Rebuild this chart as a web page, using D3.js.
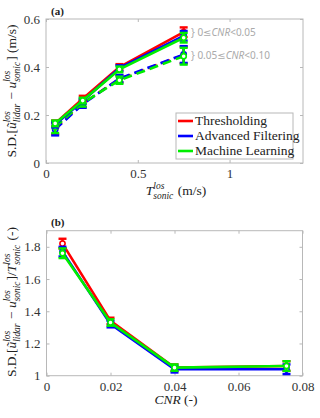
<!DOCTYPE html>
<html>
<head>
<meta charset="utf-8">
<script src="https://cdn.jsdelivr.net/npm/d3@7"></script>
<style>
  body { margin: 0; background: white; }
  svg { display: block; }
  text { white-space: pre; }
</style>
</head>
<body>
<div id="chart"></div>
<script>
// panel (a): turbulence vs S.D. of error
const tSonic = [0.05, 0.2, 0.4, 0.75];
const methods = ['Thresholding', 'Advanced Filtering', 'Machine Learning'];
const colors = ['#ff0000', '#0000ff', '#00ee00'];
// solid lines: 0 <= CNR < 0.05
const lowCnrVals = [
  [0.165, 0.268, 0.400, 0.545],
  [0.160, 0.258, 0.395, 0.530],
  [0.165, 0.260, 0.390, 0.522]
];
const lowCnrErr = [
  [0.012, 0.012, 0.012, 0.020],
  [0.012, 0.012, 0.012, 0.020],
  [0.012, 0.012, 0.012, 0.020]
];
// dashed lines: 0.05 <= CNR < 0.10
const highCnrVals = [
  [0.145, 0.248, 0.350, 0.450],
  [0.140, 0.245, 0.352, 0.452],
  [0.150, 0.250, 0.345, 0.445]
];
const highCnrErr = [
  [0.025, 0.015, 0.015, 0.035],
  [0.025, 0.015, 0.015, 0.035],
  [0.025, 0.015, 0.015, 0.035]
];
const xTicksA = [0, 0.5, 1];
const yTicksA = [0, 0.2, 0.4, 0.6];

// panel (b): CNR vs normalised S.D.
const cnr = [0.005, 0.02, 0.04, 0.075];
const normVals = [
  [1.82, 1.34, 1.05, 1.06],
  [1.77, 1.32, 1.04, 1.04],
  [1.76, 1.33, 1.05, 1.06]
];
const normErr = [
  [0.03, 0.02, 0.02, 0.03],
  [0.03, 0.02, 0.02, 0.03],
  [0.03, 0.02, 0.02, 0.03]
];
const xTicksB = [0, 0.02, 0.04, 0.06, 0.08];
const yTicksB = [1, 1.2, 1.4, 1.6, 1.8];

const W = 320, H = 418;
const serif = "'Liberation Serif', 'DejaVu Serif', serif";
const svg = d3.select('#chart').append('svg').attr('width', W).attr('height', H);

function mathText(g, parts, size) {
  let x = 0;
  parts.forEach(p => {
    if (p.t != null) {
      let t = g.append('text').attr('x', x).attr('y', 0)
        .style('font-family', serif).style('font-size', size + 'px')
        .style('font-style', p.i ? 'italic' : 'normal')
        .attr('fill', '#222').text(p.t);
      x += t.node().getComputedTextLength();
    }
    if (p.sup != null || p.sub != null) {
      let w = 0;
      const s = size * 0.7;
      if (p.sup != null) {
        let t = g.append('text').attr('x', x).attr('y', -size * 0.42)
          .style('font-family', serif).style('font-size', s + 'px').style('font-style', 'italic')
          .attr('fill', '#222').text(p.sup);
        w = Math.max(w, t.node().getComputedTextLength());
      }
      if (p.sub != null) {
        let t = g.append('text').attr('x', x).attr('y', size * 0.28)
          .style('font-family', serif).style('font-size', s + 'px').style('font-style', 'italic')
          .attr('fill', '#222').text(p.sub);
        w = Math.max(w, t.node().getComputedTextLength());
      }
      x += w + 1;
    }
  });
  return x;
}

function centeredMath(parts, size, cx, cy, rotate) {
  let outer = svg.append('g');
  let inner = outer.append('g');
  let w = mathText(inner, parts, size);
  inner.attr('transform', `translate(${-w / 2},0)`);
  outer.attr('transform', `translate(${cx},${cy})` + (rotate ? ' rotate(-90)' : ''));
}

function drawPanel(x, y, xTicks, yTicks, fmtX, fmtY) {
  const g = svg.append('g');
  const [x0, x1] = x.range(), [y0, y1] = y.range();
  g.append('rect').attr('x', x0).attr('y', y1).attr('width', x1 - x0).attr('height', y0 - y1)
    .attr('fill', 'none').attr('stroke', '#b8b8b8').attr('stroke-width', 1);
  const axB = d3.axisBottom(x).tickValues(xTicks).tickSize(-3).tickPadding(6).tickFormat(fmtX);
  const axT = d3.axisTop(x).tickValues(xTicks).tickSize(-3).tickFormat('');
  const axL = d3.axisLeft(y).tickValues(yTicks).tickSize(-3).tickPadding(6).tickFormat(fmtY);
  const axR = d3.axisRight(y).tickValues(yTicks).tickSize(-3).tickFormat('');
  [[axB, `translate(0,${y0})`], [axT, `translate(0,${y1})`], [axL, `translate(${x0},0)`], [axR, `translate(${x1},0)`]]
    .forEach(([ax, tr]) => {
      const a = g.append('g').attr('transform', tr).call(ax);
      a.select('.domain').remove();
      a.selectAll('line').attr('stroke', '#b8b8b8');
      a.selectAll('text').style('font-family', serif).style('font-size', '13px').attr('fill', '#333');
    });
}

function drawSeries(x, y, xs, vals, errs, color, dashed) {
  const pts = xs.map((d, i) => [d, vals[i], errs[i]]);
  const line = d3.line().x(d => x(d[0])).y(d => y(d[1]));
  svg.append('path').datum(pts).attr('d', line).attr('fill', 'none')
    .attr('stroke', color).attr('stroke-width', 2.6)
    .attr('stroke-dasharray', dashed ? '9,5' : null);
  const eb = svg.append('g').attr('stroke', color).attr('stroke-width', 2.4);
  pts.forEach(d => {
    const cx = x(d[0]);
    eb.append('line').attr('x1', cx).attr('x2', cx).attr('y1', y(d[1] - d[2])).attr('y2', y(d[1] + d[2]));
    [d[1] - d[2], d[1] + d[2]].forEach(v => {
      eb.append('line').attr('x1', cx - 4).attr('x2', cx + 4).attr('y1', y(v)).attr('y2', y(v));
    });
  });
  svg.append('g').selectAll('circle').data(pts).join('circle')
    .attr('cx', d => x(d[0])).attr('cy', d => y(d[1])).attr('r', 2.6)
    .attr('fill', 'white').attr('stroke', color).attr('stroke-width', 1.6);
}

// ---- panel (a)
const xA = d3.scaleLinear().domain([0, 1.4]).range([46, 303]);
const yA = d3.scaleLinear().domain([0, 0.6]).range([163, 19]);
drawPanel(xA, yA, xTicksA, yTicksA, d3.format('~g'), d3.format('~g'));
methods.forEach((m, i) => drawSeries(xA, yA, tSonic, highCnrVals[i], highCnrErr[i], colors[i], true));
methods.forEach((m, i) => drawSeries(xA, yA, tSonic, lowCnrVals[i], lowCnrErr[i], colors[i], false));

// CNR range notes
const noteFont = "'Noto Sans', 'DejaVu Sans', sans-serif";
function note(yv, lo, hi) {
  const t = svg.append('text').attr('x', 191).attr('y', yA(yv) + 4)
    .style('font-family', noteFont).style('font-size', '10px').attr('fill', '#aaaaaa');
  t.append('tspan').text('} ' + lo + '≤');
  t.append('tspan').style('font-style', 'italic').text('CNR');
  t.append('tspan').text('<' + hi);
}
note(0.545, '0', '0.05');
note(0.45, '0.05', '0.10');

// legend
const lg = svg.append('g');
lg.append('rect').attr('x', 176).attr('y', 113).attr('width', 117).attr('height', 46)
  .attr('fill', 'white').attr('stroke', '#b8b8b8');
methods.forEach((m, i) => {
  const ly = 121 + i * 15;
  lg.append('line').attr('x1', 178).attr('x2', 193).attr('y1', ly).attr('y2', ly)
    .attr('stroke', colors[i]).attr('stroke-width', 2.6);
  lg.append('text').attr('x', 195).attr('y', ly + 4).text(m)
    .style('font-family', serif).style('font-size', '13.5px').attr('fill', '#222');
});

svg.append('text').attr('x', 51).attr('y', 15).text('(a)')
  .style('font-family', serif).style('font-size', '11px').style('font-weight', 'bold').attr('fill', '#222');

centeredMath([
  { t: 'S.D.[' }, { t: 'ũ', i: true, sup: 'los', sub: 'lidar' }, { t: ' − ' },
  { t: 'u', i: true, sup: 'los', sub: 'sonic' }, { t: '] (m/s)' }
], 13.5, 16, 91, true);
centeredMath([{ t: 'T', i: true, sup: 'los', sub: 'sonic' }, { t: ' (m/s)' }], 13.5, 176, 195, false);

// ---- panel (b)
const xB = d3.scaleLinear().domain([0, 0.08]).range([46.5, 302.5]);
const yB = d3.scaleLinear().domain([1, 1.9]).range([375.7, 230.7]);
drawPanel(xB, yB, xTicksB, yTicksB, d3.format('~g'), d3.format('~g'));
methods.forEach((m, i) => drawSeries(xB, yB, cnr, normVals[i], normErr[i], colors[i], false));

svg.append('text').attr('x', 51).attr('y', 226).text('(b)')
  .style('font-family', serif).style('font-size', '11px').style('font-weight', 'bold').attr('fill', '#222');

centeredMath([
  { t: 'S.D.[' }, { t: 'ũ', i: true, sup: 'los', sub: 'lidar' }, { t: ' − ' },
  { t: 'u', i: true, sup: 'los', sub: 'sonic' }, { t: ']/' },
  { t: 'T', i: true, sup: 'los', sub: 'sonic' }, { t: ' (-)' }
], 13.5, 16, 302, true);
centeredMath([{ t: 'CNR', i: true }, { t: ' (-)' }], 13.5, 176, 404, false);
</script>
</body>
</html>
